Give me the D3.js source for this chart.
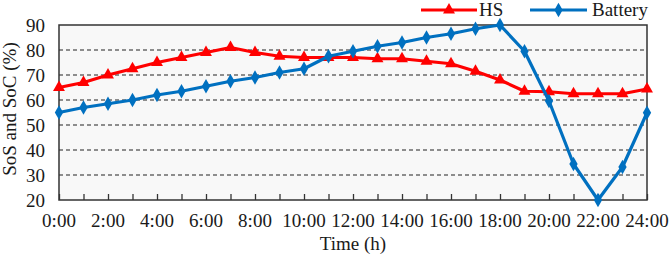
<!DOCTYPE html>
<html>
<head>
<meta charset="utf-8">
<script src="https://cdn.jsdelivr.net/npm/d3@7"></script>
<style>
  body { margin: 0; background: #fff; }
  text { font-family: "Liberation Serif", "Times New Roman", serif; }
</style>
</head>
<body>
<div id="chart"></div>
<script>
const hours = d3.range(0, 25);
const hsValues = [65, 67, 70, 72.5, 75, 77, 79, 81, 79, 77.5, 77, 77, 77, 76.5, 76.5, 75.5,
  74.5, 71.5, 68, 63.5, 63.3, 62.5, 62.5, 62.5, 64.4];
const batteryValues = [55, 57, 58.5, 60, 62, 63.5, 65.5, 67.5, 69, 71, 72.5, 77.5, 79.5, 81.5,
  83, 85, 86.5, 88.5, 90, 79.5, 59.6, 34.4, 20, 33.2, 54.9];
const yTicks = [20, 30, 40, 50, 60, 70, 80, 90];
const xTickHours = [0, 2, 4, 6, 8, 10, 12, 14, 16, 18, 20, 22, 24];

const width = 671;
const height = 257;
const margin = {top: 25, right: 24, bottom: 57, left: 59};
const fontSize = 19;

const svg = d3.select('#chart').append('svg')
    .attr('width', width)
    .attr('height', height);

const x = d3.scaleLinear()
    .domain([0, 24])
    .range([margin.left, width - margin.right]);
const y = d3.scaleLinear()
    .domain([20, 90])
    .range([height - margin.bottom, margin.top]);

// plot background
svg.append('rect')
    .attr('x', x(0))
    .attr('y', y(90))
    .attr('width', x(24) - x(0))
    .attr('height', y(20) - y(90))
    .attr('fill', '#f8f8f8');

// dashed grid
svg.append('g')
    .selectAll('line')
    .data(yTicks.filter((d) => d > 20 && d < 90))
    .enter()
    .append('line')
    .attr('x1', x(0))
    .attr('x2', x(24))
    .attr('y1', (d) => y(d))
    .attr('y2', (d) => y(d))
    .attr('stroke', '#6a6a6a')
    .attr('stroke-width', 1.3)
    .attr('stroke-dasharray', '4,3');

// axes
const xAxis = svg.append('g')
    .attr('transform', `translate(0,${y(20)})`)
    .call(d3.axisBottom(x).tickValues(hours).tickSize(-6).tickFormat(''));
xAxis.select('.domain').remove();
xAxis.selectAll('line').attr('stroke', '#333').attr('stroke-width', 1.3);

svg.append('g')
    .selectAll('text')
    .data(xTickHours)
    .enter()
    .append('text')
    .attr('x', (d) => x(d))
    .attr('y', y(20) + 27)
    .attr('text-anchor', 'middle')
    .attr('font-size', fontSize)
    .attr('fill', '#1a1a1a')
    .text((d) => `${d}:00`);

const yAxis = svg.append('g')
    .attr('transform', `translate(${x(0)},0)`)
    .call(d3.axisLeft(y).tickValues(yTicks).tickSize(0).tickPadding(14));
yAxis.select('.domain').remove();
yAxis.selectAll('text')
    .attr('font-size', fontSize)
    .attr('fill', '#1a1a1a')
    .style('font-family', '"Liberation Serif", serif');

// plot frame
svg.append('rect')
    .attr('x', x(0))
    .attr('y', y(90))
    .attr('width', x(24) - x(0))
    .attr('height', y(20) - y(90))
    .attr('fill', 'none')
    .attr('stroke', '#333')
    .attr('stroke-width', 1.5);

// axis titles
svg.append('text')
    .attr('x', (x(0) + x(24)) / 2)
    .attr('y', 250)
    .attr('text-anchor', 'middle')
    .attr('font-size', fontSize)
    .attr('fill', '#1a1a1a')
    .text('Time (h)');

svg.append('text')
    .attr('transform', 'translate(16,109) rotate(-90)')
    .attr('text-anchor', 'middle')
    .attr('font-size', fontSize)
    .attr('fill', '#1a1a1a')
    .text('SoS and SoC (%)');

// series
const series = [
  {name: 'HS', values: hsValues, color: '#ff0000', symbol: d3.symbolTriangle, size: 62},
  {name: 'Battery', values: batteryValues, color: '#0070c0', symbol: d3.symbolDiamond, size: 60}
];

const line = d3.line()
    .x((d, i) => x(hours[i]))
    .y((d) => y(d));

series.forEach((s) => {
  svg.append('path')
      .datum(s.values)
      .attr('d', line)
      .attr('fill', 'none')
      .attr('stroke', s.color)
      .attr('stroke-width', 3.2)
      .attr('stroke-linejoin', 'round');

  svg.append('g')
      .selectAll('path')
      .data(s.values)
      .enter()
      .append('path')
      .attr('transform', (d, i) => `translate(${x(hours[i])},${y(d)})`)
      .attr('d', d3.symbol().type(s.symbol).size(s.size))
      .attr('fill', s.color);
});

// legend
const legendItems = [
  {s: series[0], x0: 421, x1: 477, tx: 479},
  {s: series[1], x0: 530, x1: 587, tx: 592}
];
const legendY = 10;
legendItems.forEach((d) => {
  svg.append('line')
      .attr('x1', d.x0)
      .attr('x2', d.x1)
      .attr('y1', legendY)
      .attr('y2', legendY)
      .attr('stroke', d.s.color)
      .attr('stroke-width', 3.2);
  svg.append('path')
      .attr('transform', `translate(${(d.x0 + d.x1) / 2},${legendY})`)
      .attr('d', d3.symbol().type(d.s.symbol).size(d.s.size))
      .attr('fill', d.s.color);
  svg.append('text')
      .attr('x', d.tx)
      .attr('y', 16)
      .attr('font-size', fontSize)
      .attr('fill', '#1a1a1a')
      .text(d.s.name);
});
</script>
</body>
</html>
